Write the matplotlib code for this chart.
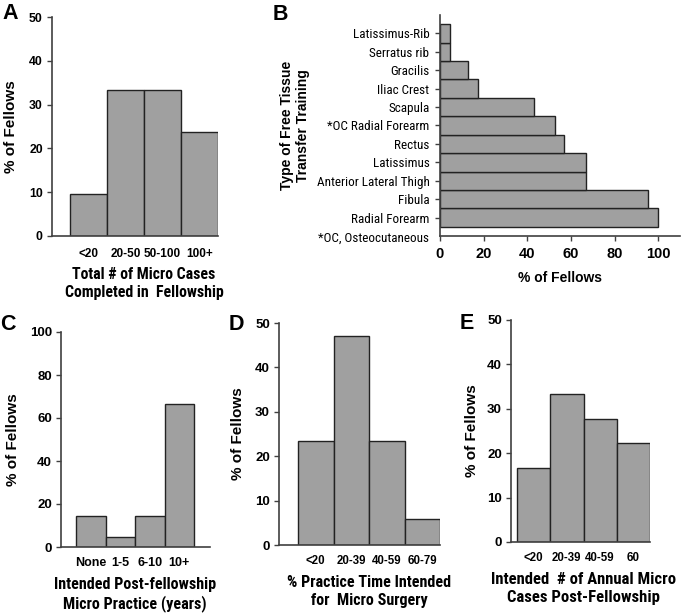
import matplotlib
matplotlib.use("Agg")
import matplotlib.pyplot as plt
from matplotlib import font_manager as fm
from matplotlib.transforms import blended_transform_factory
import numpy as np

# ---------------- data ----------------
a_cats = ['<20', '20-50', '50-100', '100+']
a_vals = [9.5, 33.3, 33.3, 23.8]

b_cats = ['Radial Forearm', 'Fibula', 'Anterior Lateral Thigh', 'Latissimus',
          'Rectus', '*OC Radial Forearm', 'Scapula', 'Iliac Crest', 'Gracilis',
          'Serratus rib', 'Latissimus-Rib']
b_vals = [100, 95.5, 66.7, 66.7, 57.0, 52.5, 43.0, 17.4, 13.0, 4.4, 4.4]
b_note = '*OC, Osteocutaneous'
b_xticks = [0, 20, 40, 60, 80, 100]

c_cats = ['None', '1-5', '6-10', '10+']
c_vals = [14.3, 4.8, 14.3, 66.7]

d_cats = ['<20', '20-39', '40-59', '60-79']
d_vals = [23.5, 47.1, 23.5, 5.9]

e_cats = ['<20', '20-39', '40-59', '60']
e_vals = [16.7, 33.3, 27.8, 22.2]

# ---------------- fonts ----------------
names = {f.name for f in fm.fontManager.ttflist}
BASE = 'Liberation Sans'
CONDENSED = None
for cand in ['Roboto Condensed', 'Archivo Narrow', 'PT Sans Narrow']:
    if cand in names:
        CONDENSED = cand
        break
CF = 0.86  # approximate width factor of the condensed face vs Arial
plt.rcParams['font.family'] = [BASE, 'DejaVu Sans']


def cond(size, weight='bold'):
    """condensed text; size given as Arial-width equivalent"""
    if CONDENSED:
        return dict(family=[CONDENSED, BASE], fontsize=size / CF, fontweight=weight)
    return dict(family=[BASE], fontsize=size, fontweight=weight)


def norm(size, weight='bold'):
    return dict(family=[BASE], fontsize=size, fontweight=weight)


W, H = 685, 614
fig = plt.figure(figsize=(W / 100, H / 100), dpi=100)

FILL = '#a0a0a0'
EDGE = '#222222'
SPINE = '#404040'


def px_axes(left, right, top, bottom):
    return fig.add_axes([left / W, 1 - bottom / H, (right - left) / W, (bottom - top) / H])


def style(ax):
    for s in ['top', 'right']:
        ax.spines[s].set_visible(False)
    for s in ['left', 'bottom']:
        ax.spines[s].set_color(SPINE)
        ax.spines[s].set_linewidth(1.2)


def vbar_panel(box, cats, vals, bar_px, spine_end, ylim, yticks, xt_font, yt_font,
               xl_text, xl_font, yl_right, xpad=7.2, xl_gap=30):
    left, right, top, bottom = box
    ax = px_axes(left, spine_end, top, bottom)
    n = len(cats)
    bw = (bar_px[1] - bar_px[0]) / n
    x = np.arange(n)
    ax.bar(x, vals, width=1.0, color=FILL, edgecolor=EDGE, linewidth=1.0)
    ax.set_xlim(-0.5 - (bar_px[0] - left) / bw, n - 0.5 + (spine_end - bar_px[1]) / bw)
    ax.set_ylim(*ylim)
    ax.set_yticks(yticks)
    ax.set_xticks(x)
    ax.set_xticklabels(cats, **xt_font)
    ax.set_yticklabels([str(t) for t in yticks], **yt_font)
    ax.tick_params(axis='x', length=0, pad=xpad)
    ax.tick_params(axis='y', length=3.6, width=1.0, color=SPINE, pad=3)
    style(ax)
    ax.set_xlabel(xl_text, linespacing=1.25, **xl_font)
    ax.xaxis.set_label_coords((n - 1) / 2, -xl_gap / (bottom - top),
                              transform=blended_transform_factory(ax.transData, ax.transAxes))
    ax.set_ylabel('% of Fellows', **norm(11))
    ax.yaxis.set_label_coords((yl_right - left) / (spine_end - left), 0.5)
    return ax


# ---------------- panel A ----------------
axA = vbar_panel((52, 218, 17, 236), a_cats, a_vals, (70, 218), 218, (0, 50),
                 [0, 10, 20, 30, 40, 50], norm(8.5), norm(8.8),
                 'Total # of Micro Cases\nCompleted in  Fellowship', cond(9.8),
                 18, xpad=8.4, xl_gap=31)

# ---------------- panel B ----------------
axB = px_axes(440, 680, 15, 236)
yb = np.arange(len(b_cats))
axB.barh(yb, b_vals, height=1.0, color=FILL, edgecolor=EDGE, linewidth=1.0)
axB.set_ylim(-1, len(b_cats))
axB.set_xlim(0, 110)
axB.set_xticks(b_xticks)
axB.set_xticklabels([str(t) for t in b_xticks], **norm(10.5))
axB.set_yticks(yb)
axB.set_yticklabels(b_cats, **cond(8.1, 'normal'))
axB.tick_params(axis='x', length=3.6, width=1.0, color=SPINE, pad=4)
axB.tick_params(axis='y', length=3.6, width=1.0, color=SPINE, pad=4)
style(axB)
axB.annotate(b_note, xy=(0, -1.15), xycoords='data', xytext=(-8, 0),
             textcoords='offset points', ha='right', va='center', annotation_clip=False,
             **cond(8.1, 'normal'))
axB.set_xlabel('% of Fellows', **norm(10))
axB.xaxis.set_label_coords(0.5, -0.16)
axB.set_ylabel('Type of Free Tissue\nTransfer Training', linespacing=1.15, **norm(10))
axB.yaxis.set_label_coords(-0.542, 0.5)

# ---------------- panel C ----------------
axC = vbar_panel((61, 210, 332, 547), c_cats, c_vals, (76, 194), 210, (0, 100),
                 [0, 20, 40, 60, 80, 100], norm(9.0), norm(9.5),
                 'Intended Post-fellowship\nMicro Practice (years)', cond(10.0), 20)

# ---------------- panel D ----------------
axD = vbar_panel((279, 440, 323, 545), d_cats, d_vals, (298, 440), 440, (0, 50),
                 [0, 10, 20, 30, 40, 50], norm(8.3), norm(9.5),
                 '% Practice Time Intended\nfor  Micro Surgery', cond(10.0), 245)

# ---------------- panel E ----------------
axE = vbar_panel((511, 650, 320, 542), e_cats, e_vals, (517, 650), 650, (0, 50),
                 [0, 10, 20, 30, 40, 50], norm(8.3), norm(9.5),
                 'Intended  # of Annual Micro\nCases Post-Fellowship', cond(10.3), 479)

# ---------------- panel letters ----------------
for letter, (lx, ly) in {'A': (2, 3), 'B': (273, 4), 'C': (0, 314), 'D': (229, 314), 'E': (460, 313)}.items():
    fig.text(lx / W, 1 - ly / H, letter, ha='left', va='top', **norm(15.5))

fig.savefig('out.png', dpi=100)
